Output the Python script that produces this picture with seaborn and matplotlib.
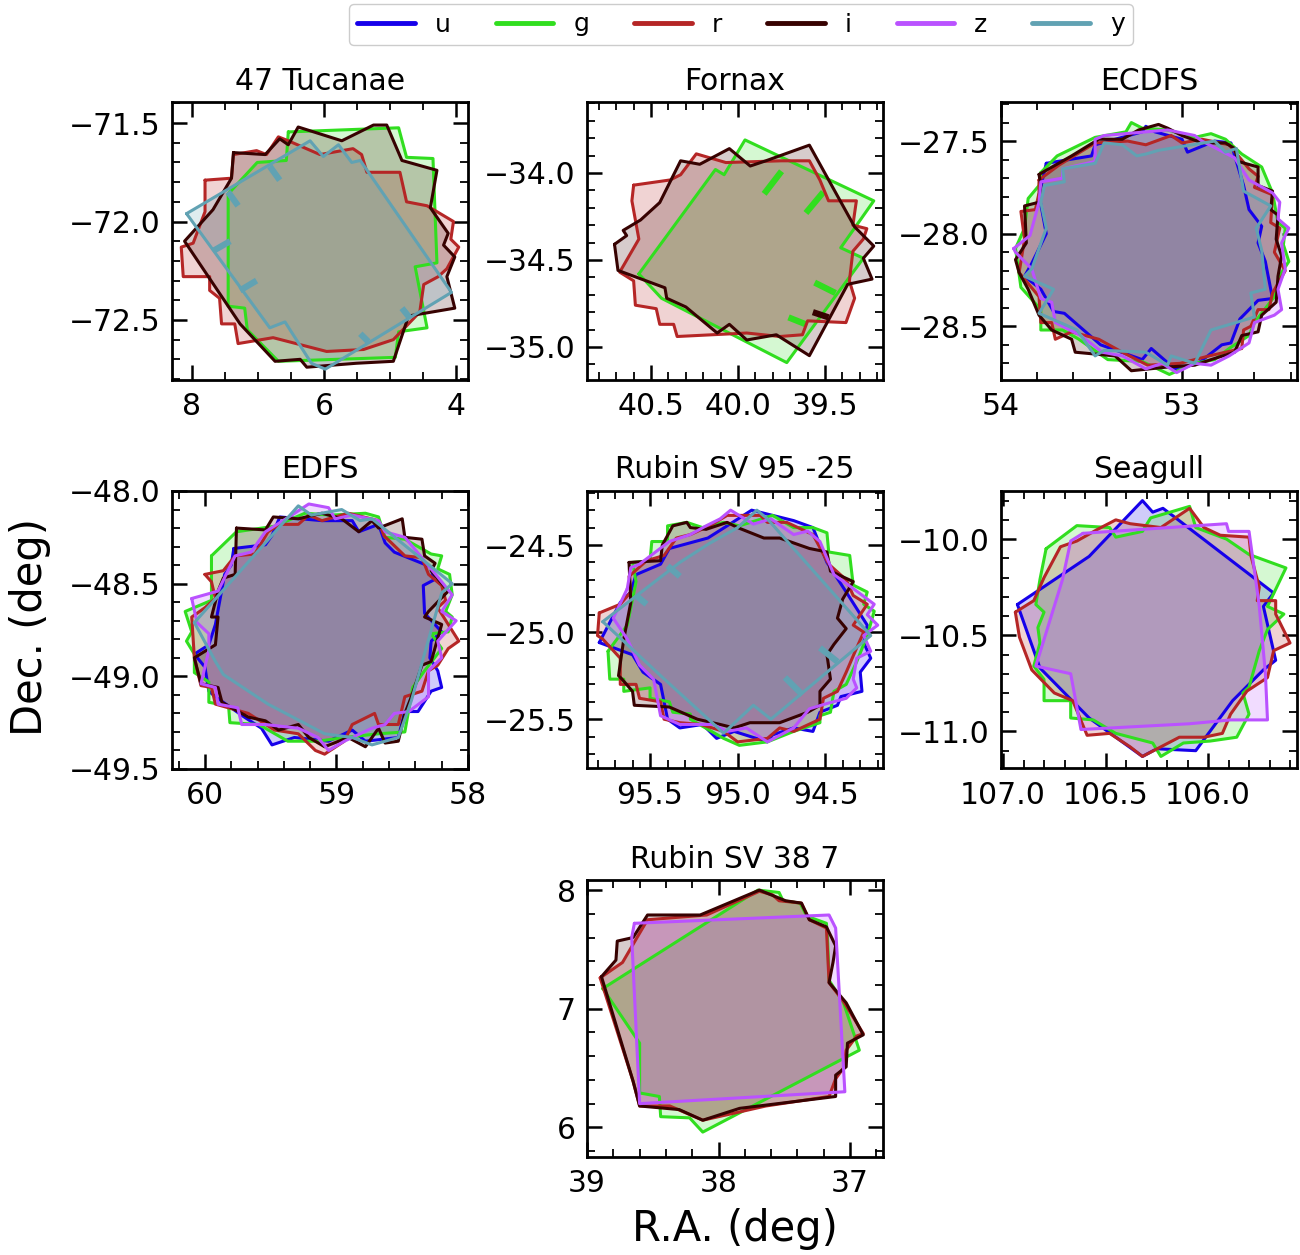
import numpy as np
import matplotlib
matplotlib.use("Agg")
import matplotlib.pyplot as plt
from matplotlib.lines import Line2D
from matplotlib.ticker import MultipleLocator
import seaborn as sns

# ---------------- data (RA, Dec in degrees) ----------------
BANDS = ["u", "g", "r", "i", "z", "y"]

tuc47_g = [(6.54, -71.545), (4.87, -71.524), (4.75, -71.674), (4.35, -71.68), (4.29, -72.21),
           (4.62, -72.23), (4.44, -72.54), (4.87, -72.56), (4.92, -72.69), (6.69, -72.71),
           (7.16, -72.55), (7.20, -72.44), (7.45, -72.43), (7.45, -71.86), (7.01, -71.70),
           (6.57, -71.69)]
tuc47_r = [(7.80, -71.79), (7.40, -71.78), (7.37, -71.66), (7.02, -71.64), (6.87, -71.66),
           (6.69, -71.57), (6.54, -71.59), (6.06, -71.66), (5.56, -71.63), (5.43, -71.66),
           (5.35, -71.75), (4.85, -71.75), (4.75, -71.90), (4.44, -71.92), (4.04, -72.00),
           (4.08, -72.09), (3.96, -72.13), (4.14, -72.24), (4.27, -72.28), (4.49, -72.32),
           (4.55, -72.46), (4.95, -72.60), (5.40, -72.65), (5.96, -72.66), (6.77, -72.59),
           (7.30, -72.62), (7.35, -72.52), (7.55, -72.52), (7.58, -72.39), (7.73, -72.35),
           (7.73, -72.28), (8.13, -72.28), (8.16, -72.13), (7.98, -72.11), (7.80, -71.95)]
tuc47_i = [(7.37, -71.65), (6.89, -71.66), (6.67, -71.58), (6.54, -71.61), (6.39, -71.52),
           (5.73, -71.59), (5.25, -71.51), (5.05, -71.51), (4.82, -71.69), (4.29, -71.74),
           (4.39, -71.93), (4.12, -72.06), (4.19, -72.12), (4.02, -72.18), (4.14, -72.28),
           (4.02, -72.44), (4.72, -72.48), (4.95, -72.71), (5.51, -72.72), (6.26, -72.74),
           (6.36, -72.70), (6.74, -72.71), (7.27, -72.52), (7.55, -72.38), (8.11, -72.10),
           (7.68, -71.94), (7.40, -71.78)]
tuc47_y = [(8.08, -71.96), (6.21, -71.59), (6.01, -71.67), (5.78, -71.61), (5.58, -71.70),
           (5.45, -71.69), (4.07, -72.36), (5.98, -72.75), (6.19, -72.72), (6.59, -72.51),
           (6.82, -72.54)]
# short chip-gap marks inside the footprints: (ra0, dec0, ra1, dec1)
tuc47_y_gaps = [(6.82, -71.72, 6.67, -71.79), (7.45, -71.85, 7.30, -71.92),
                (7.68, -72.15, 7.42, -72.10), (7.27, -72.35, 7.02, -72.30),
                (5.45, -72.57, 5.33, -72.61), (4.82, -72.44, 4.70, -72.49)]

fornax_g = [(40.57, -34.58), (40.13, -33.98), (40.08, -34.01), (39.96, -33.81), (39.22, -34.16),
            (39.41, -34.43), (39.28, -34.49), (39.72, -35.09), (40.44, -34.72)]
fornax_r = [(40.60, -34.07), (40.39, -34.04), (40.33, -34.01), (40.24, -33.89), (40.07, -33.94),
            (39.75, -33.93), (39.59, -33.93), (39.53, -34.04), (39.48, -34.16), (39.32, -34.16),
            (39.34, -34.30), (39.26, -34.32), (39.28, -34.38), (39.34, -34.45), (39.36, -34.62),
            (39.33, -34.72), (39.38, -34.86), (39.60, -34.85), (39.63, -34.93), (39.76, -34.94),
            (39.95, -34.92), (40.35, -34.94), (40.37, -34.87), (40.45, -34.87), (40.47, -34.78),
            (40.59, -34.76), (40.60, -34.62), (40.68, -34.57), (40.57, -34.38), (40.61, -34.16)]
fornax_i = [(40.71, -34.41), (40.64, -34.36), (40.66, -34.33), (40.56, -34.27), (40.45, -34.17),
            (40.33, -33.93), (40.22, -33.95), (40.05, -33.86), (39.93, -33.96), (39.84, -33.93),
            (39.59, -33.84), (39.33, -34.31), (39.22, -34.42), (39.28, -34.49), (39.23, -34.61),
            (39.37, -34.64), (39.59, -35.05), (39.78, -34.93), (39.95, -34.96), (40.05, -34.87),
            (40.12, -34.92), (40.30, -34.77), (40.41, -34.72), (40.42, -34.66), (40.69, -34.56)]
fornax_g_gaps = [(39.85, -34.12, 39.75, -33.99), (39.61, -34.23, 39.51, -34.11),
                 (39.56, -34.63, 39.44, -34.69), (39.71, -34.83, 39.61, -34.87)]
fornax_i_gaps = [(39.57, -34.80, 39.48, -34.83)]

ecdfs_u = [(53.75, -27.62), (53.50, -27.58), (53.48, -27.52), (53.22, -27.45), (53.20, -27.42),
           (53.15, -27.45), (53.00, -27.49), (52.97, -27.56), (52.82, -27.50), (52.73, -27.51),
           (52.66, -27.74), (52.63, -27.87), (52.56, -27.96), (52.58, -28.05), (52.54, -28.15),
           (52.50, -28.35), (52.58, -28.36), (52.68, -28.46), (52.73, -28.59), (52.78, -28.60),
           (52.91, -28.70), (53.04, -28.73), (53.17, -28.62), (53.22, -28.68), (53.45, -28.60),
           (53.65, -28.43), (53.71, -28.42), (53.78, -28.30), (53.87, -28.23), (53.83, -28.16),
           (53.75, -28.00), (53.79, -27.79)]
ecdfs_g = [(53.78, -27.67), (53.69, -27.58), (53.48, -27.48), (53.31, -27.45), (53.28, -27.40),
           (53.22, -27.43), (53.08, -27.44), (52.93, -27.48), (52.84, -27.46), (52.76, -27.49),
           (52.67, -27.57), (52.56, -27.64), (52.50, -27.78), (52.47, -27.94), (52.43, -27.97),
           (52.44, -28.06), (52.41, -28.15), (52.45, -28.21), (52.49, -28.34), (52.60, -28.48),
           (52.63, -28.55), (52.74, -28.62), (52.82, -28.68), (52.93, -28.70), (53.07, -28.76),
           (53.22, -28.69), (53.41, -28.68), (53.57, -28.57), (53.66, -28.52), (53.78, -28.52),
           (53.78, -28.41), (53.89, -28.29), (53.92, -28.08), (53.87, -27.97), (53.85, -27.81),
           (53.79, -27.74)]
ecdfs_r = [(53.79, -27.71), (53.68, -27.63), (53.48, -27.51), (53.30, -27.50), (53.20, -27.52),
           (53.06, -27.47), (53.00, -27.51), (52.89, -27.49), (52.74, -27.52), (52.63, -27.65),
           (52.58, -27.69), (52.60, -27.75), (52.50, -27.79), (52.51, -27.94), (52.46, -27.97),
           (52.49, -28.10), (52.43, -28.20), (52.50, -28.32), (52.52, -28.41), (52.58, -28.41),
           (52.62, -28.50), (52.66, -28.52), (52.67, -28.62), (52.85, -28.66), (53.01, -28.70),
           (53.19, -28.71), (53.33, -28.64), (53.46, -28.57), (53.61, -28.53), (53.70, -28.57),
           (53.72, -28.48), (53.78, -28.48), (53.79, -28.34), (53.90, -28.21), (53.87, -28.03),
           (53.89, -27.88), (53.81, -27.87), (53.79, -27.78)]
ecdfs_i = [(53.79, -27.68), (53.61, -27.58), (53.46, -27.49), (53.33, -27.49), (53.24, -27.44),
           (53.13, -27.41), (53.08, -27.43), (53.00, -27.47), (52.89, -27.51), (52.76, -27.51),
           (52.71, -27.54), (52.69, -27.61), (52.58, -27.64), (52.58, -27.74), (52.50, -27.77),
           (52.51, -27.87), (52.47, -27.90), (52.48, -28.03), (52.45, -28.12), (52.47, -28.23),
           (52.48, -28.37), (52.56, -28.44), (52.58, -28.53), (52.67, -28.55), (52.71, -28.64),
           (52.84, -28.68), (52.93, -28.71), (53.08, -28.72), (53.28, -28.74), (53.37, -28.66),
           (53.59, -28.64), (53.61, -28.57), (53.72, -28.52), (53.79, -28.44), (53.85, -28.30),
           (53.90, -28.21), (53.92, -28.14), (53.86, -28.05), (53.87, -27.85), (53.79, -27.83),
           (53.78, -27.74)]
ecdfs_z = [(53.93, -28.08), (53.84, -28.01), (53.79, -27.83), (53.78, -27.72), (53.66, -27.70),
           (53.66, -27.65), (53.48, -27.61), (53.48, -27.49), (53.43, -27.47), (53.08, -27.44),
           (52.93, -27.47), (52.89, -27.50), (52.71, -27.59), (52.63, -27.71), (52.50, -27.78),
           (52.46, -27.83), (52.47, -27.92), (52.41, -27.97), (52.45, -28.05), (52.43, -28.19),
           (52.47, -28.30), (52.45, -28.41), (52.49, -28.44), (52.60, -28.48), (52.63, -28.59),
           (52.74, -28.66), (52.84, -28.71), (52.93, -28.70), (53.03, -28.75), (53.11, -28.70),
           (53.20, -28.73), (53.33, -28.66), (53.44, -28.64), (53.56, -28.55), (53.70, -28.48),
           (53.72, -28.37), (53.78, -28.35), (53.83, -28.19), (53.92, -28.10)]
ecdfs_y = [(53.76, -27.74), (53.65, -27.72), (53.66, -27.65), (53.48, -27.62), (53.43, -27.51),
           (53.33, -27.52), (53.25, -27.58), (53.20, -27.57), (53.13, -27.55), (52.82, -27.50),
           (52.76, -27.56), (52.70, -27.54), (52.66, -27.77), (52.51, -27.85), (52.59, -27.97),
           (52.56, -28.09), (52.54, -28.30), (52.62, -28.32), (52.60, -28.45), (52.84, -28.52),
           (52.93, -28.70), (53.06, -28.66), (53.08, -28.71), (53.20, -28.64), (53.43, -28.63),
           (53.48, -28.66), (53.58, -28.52), (53.79, -28.43), (53.71, -28.30), (53.87, -28.23),
           (53.83, -28.19), (53.75, -27.97), (53.78, -27.83)]

edfs_u = [(59.78, -48.31), (59.54, -48.29), (59.49, -48.24), (59.43, -48.14), (59.11, -48.16),
          (58.88, -48.16), (58.83, -48.22), (58.68, -48.18), (58.63, -48.28), (58.56, -48.33),
          (58.28, -48.41), (58.26, -48.48), (58.34, -48.51), (58.33, -48.66), (58.20, -48.76),
          (58.28, -48.81), (58.29, -48.90), (58.23, -48.97), (58.20, -49.06), (58.28, -49.08),
          (58.38, -49.19), (58.48, -49.19), (58.53, -49.33), (58.78, -49.35), (58.88, -49.29),
          (59.06, -49.35), (59.32, -49.33), (59.49, -49.37), (59.57, -49.28), (59.70, -49.22),
          (59.92, -49.11), (59.97, -49.08), (60.00, -48.95), (60.08, -48.88), (59.97, -48.83),
          (59.92, -48.72), (59.85, -48.45), (59.80, -48.40)]
edfs_g = [(59.95, -48.35), (59.76, -48.22), (59.47, -48.19), (59.24, -48.12), (59.04, -48.13),
          (58.78, -48.12), (58.68, -48.14), (58.63, -48.25), (58.48, -48.26), (58.28, -48.34),
          (58.20, -48.35), (58.23, -48.42), (58.14, -48.45), (58.12, -48.56), (58.17, -48.65),
          (58.12, -48.68), (58.15, -48.76), (58.28, -48.77), (58.20, -48.85), (58.33, -48.97),
          (58.42, -49.06), (58.48, -49.30), (58.68, -49.31), (58.94, -49.33), (59.14, -49.35),
          (59.37, -49.35), (59.59, -49.26), (59.81, -49.25), (59.82, -49.16), (59.97, -49.14),
          (59.97, -49.03), (60.08, -48.98), (60.08, -48.88), (60.14, -48.81), (60.10, -48.76),
          (60.15, -48.65), (59.95, -48.59)]
edfs_r = [(60.00, -48.45), (59.86, -48.43), (59.77, -48.35), (59.62, -48.34), (59.52, -48.22),
          (59.43, -48.18), (59.29, -48.18), (59.21, -48.13), (59.11, -48.16), (58.91, -48.12),
          (58.68, -48.16), (58.64, -48.24), (58.48, -48.35), (58.35, -48.36), (58.30, -48.45),
          (58.20, -48.51), (58.17, -48.59), (58.23, -48.63), (58.07, -48.81), (58.15, -48.85),
          (58.23, -48.94), (58.30, -48.97), (58.35, -49.08), (58.48, -49.11), (58.53, -49.26),
          (58.68, -49.26), (58.71, -49.20), (58.88, -49.26), (58.94, -49.35), (59.09, -49.42),
          (59.16, -49.40), (59.29, -49.31), (59.47, -49.29), (59.67, -49.20), (59.92, -49.15),
          (59.95, -49.06), (60.03, -49.05), (60.08, -48.90), (60.10, -48.68), (60.00, -48.63),
          (59.92, -48.58), (59.95, -48.49)]
edfs_i = [(59.76, -48.20), (59.54, -48.21), (59.48, -48.14), (59.29, -48.15), (59.11, -48.12),
          (58.96, -48.15), (58.83, -48.22), (58.73, -48.16), (58.68, -48.20), (58.50, -48.15),
          (58.48, -48.25), (58.35, -48.26), (58.33, -48.35), (58.25, -48.39), (58.28, -48.43),
          (58.15, -48.54), (58.30, -48.65), (58.33, -48.68), (58.20, -48.72), (58.28, -48.92),
          (58.35, -48.94), (58.43, -49.11), (58.48, -49.20), (58.53, -49.35), (58.63, -49.36),
          (58.68, -49.28), (58.78, -49.38), (58.91, -49.33), (59.09, -49.38), (59.21, -49.33),
          (59.29, -49.26), (59.44, -49.29), (59.54, -49.24), (59.67, -49.22), (59.87, -49.14),
          (59.90, -49.06), (60.03, -49.04), (60.08, -48.90), (59.92, -48.83), (59.90, -48.68),
          (59.95, -48.68), (59.90, -48.54), (59.86, -48.47), (59.77, -48.45)]
edfs_z = [(60.10, -48.58), (59.90, -48.54), (59.77, -48.35), (59.65, -48.33), (59.54, -48.22),
          (59.34, -48.13), (59.21, -48.07), (59.06, -48.09), (59.01, -48.15), (58.88, -48.13),
          (58.68, -48.16), (58.63, -48.22), (58.48, -48.25), (58.35, -48.36), (58.20, -48.49),
          (58.12, -48.56), (58.20, -48.65), (58.09, -48.70), (58.23, -48.81), (58.20, -48.90),
          (58.30, -48.97), (58.30, -49.11), (58.45, -49.19), (58.56, -49.20), (58.63, -49.26),
          (58.73, -49.28), (58.94, -49.35), (59.06, -49.40), (59.14, -49.33), (59.29, -49.28),
          (59.54, -49.26), (59.72, -49.26), (59.75, -49.17), (59.90, -49.15), (59.92, -49.06),
          (60.03, -49.04), (59.97, -48.86), (59.97, -48.77), (60.06, -48.71)]
edfs_y = [(60.08, -48.71), (59.29, -48.08), (59.19, -48.13), (58.96, -48.10), (58.82, -48.16),
          (58.73, -48.15), (58.12, -48.50), (58.20, -48.55), (58.43, -49.13), (58.53, -49.33),
          (58.73, -49.37), (58.88, -49.33), (59.09, -49.31), (59.52, -49.15), (59.86, -48.99),
          (59.92, -48.92)]

sv95_u = [(95.79, -25.06), (95.67, -24.83), (95.61, -24.77), (95.58, -24.67), (95.44, -24.61),
          (95.39, -24.52), (95.17, -24.46), (95.06, -24.39), (94.92, -24.30), (94.80, -24.33),
          (94.68, -24.36), (94.57, -24.40), (94.49, -24.60), (94.38, -24.77), (94.26, -24.96),
          (94.28, -25.06), (94.24, -25.15), (94.30, -25.23), (94.29, -25.34), (94.41, -25.37),
          (94.43, -25.42), (94.53, -25.46), (94.57, -25.57), (94.68, -25.55), (94.80, -25.59),
          (94.83, -25.63), (95.02, -25.57), (95.12, -25.61), (95.20, -25.53), (95.33, -25.55),
          (95.40, -25.50), (95.44, -25.30), (95.54, -25.23), (95.60, -25.13)]
sv95_g = [(95.74, -25.11), (95.63, -24.96), (95.58, -24.71), (95.60, -24.60), (95.50, -24.59),
          (95.49, -24.48), (95.40, -24.48), (95.40, -24.39), (95.29, -24.37), (95.20, -24.40),
          (95.08, -24.37), (94.99, -24.39), (94.80, -24.33), (94.68, -24.40), (94.57, -24.40),
          (94.49, -24.43), (94.48, -24.54), (94.36, -24.56), (94.34, -24.73), (94.26, -24.77),
          (94.28, -24.84), (94.22, -24.88), (94.26, -25.02), (94.32, -25.17), (94.38, -25.30),
          (94.45, -25.34), (94.47, -25.46), (94.53, -25.48), (94.53, -25.52), (94.68, -25.57),
          (94.83, -25.63), (94.99, -25.65), (95.08, -25.61), (95.27, -25.50), (95.27, -25.47),
          (95.37, -25.46), (95.39, -25.40), (95.50, -25.38), (95.50, -25.32), (95.65, -25.34),
          (95.65, -25.27), (95.73, -25.27)]
sv95_r = [(95.79, -24.89), (95.67, -24.84), (95.61, -24.77), (95.62, -24.68), (95.52, -24.59),
          (95.42, -24.56), (95.35, -24.46), (95.27, -24.44), (95.16, -24.39), (95.06, -24.33),
          (94.87, -24.33), (94.83, -24.37), (94.72, -24.37), (94.57, -24.44), (94.48, -24.61),
          (94.38, -24.70), (94.34, -24.79), (94.26, -24.84), (94.34, -24.96), (94.28, -25.00),
          (94.32, -25.09), (94.38, -25.23), (94.43, -25.34), (94.51, -25.38), (94.53, -25.50),
          (94.68, -25.57), (94.76, -25.55), (94.83, -25.61), (95.00, -25.63), (95.08, -25.57),
          (95.21, -25.53), (95.33, -25.52), (95.42, -25.50), (95.44, -25.40), (95.56, -25.38),
          (95.58, -25.30), (95.67, -25.30), (95.67, -25.15), (95.77, -25.04), (95.80, -25.02)]
sv95_i = [(95.62, -24.60), (95.44, -24.59), (95.43, -24.50), (95.37, -24.39), (95.29, -24.37),
          (95.27, -24.40), (95.18, -24.41), (95.06, -24.37), (95.00, -24.40), (94.85, -24.46),
          (94.76, -24.46), (94.59, -24.52), (94.49, -24.54), (94.47, -24.65), (94.34, -24.71),
          (94.40, -24.81), (94.43, -24.92), (94.38, -24.98), (94.45, -25.07), (94.49, -25.13),
          (94.47, -25.27), (94.53, -25.34), (94.53, -25.42), (94.60, -25.46), (94.76, -25.52),
          (94.93, -25.52), (95.02, -25.55), (95.10, -25.53), (95.23, -25.50), (95.39, -25.43),
          (95.59, -25.42), (95.60, -25.34), (95.66, -25.27), (95.68, -25.25), (95.65, -25.04),
          (95.61, -24.83)]
sv95_z = [(95.63, -24.75), (95.61, -24.63), (95.56, -24.61), (95.39, -24.48), (95.27, -24.44),
          (95.18, -24.39), (95.10, -24.35), (95.04, -24.30), (94.91, -24.38), (94.81, -24.35),
          (94.68, -24.44), (94.60, -24.42), (94.53, -24.48), (94.45, -24.67), (94.34, -24.75),
          (94.22, -24.84), (94.26, -24.90), (94.20, -24.96), (94.28, -25.02), (94.24, -25.11),
          (94.32, -25.15), (94.34, -25.27), (94.32, -25.32), (94.38, -25.38), (94.49, -25.41),
          (94.59, -25.44), (94.68, -25.55), (94.83, -25.63), (94.95, -25.55), (95.06, -25.57),
          (95.14, -25.53), (95.33, -25.53), (95.44, -25.48), (95.48, -25.27), (95.56, -25.19),
          (95.63, -25.04), (95.71, -24.92)]
sv95_y = [(95.77, -24.94), (95.33, -24.60), (95.16, -24.49), (95.00, -24.40), (94.89, -24.30),
          (94.83, -24.35), (94.24, -25.02), (94.81, -25.50), (94.91, -25.42), (95.08, -25.58),
          (95.44, -25.25)]
sv95_y_gaps = [(95.40, -24.62, 95.33, -24.68), (95.58, -24.79, 95.52, -24.84),
               (94.73, -25.26, 94.63, -25.36), (94.53, -25.09, 94.43, -25.17)]

seagull_u = [(106.93, -10.34), (106.58, -10.09), (106.32, -9.80), (106.27, -9.86), (106.22, -9.84),
             (106.17, -9.88), (105.68, -10.28), (105.73, -10.35), (105.67, -10.63), (105.73, -10.68),
             (105.88, -10.84), (106.06, -11.10), (106.25, -11.09), (106.32, -11.13), (106.58, -10.93),
             (106.82, -10.67)]
seagull_g = [(106.79, -10.05), (106.64, -9.93), (106.48, -9.94), (106.45, -9.99), (106.32, -9.96),
             (106.28, -9.89), (106.09, -9.83), (106.06, -9.94), (105.91, -10.00), (105.80, -10.08),
             (105.62, -10.15), (105.71, -10.35), (105.63, -10.39), (105.71, -10.47), (105.75, -10.58),
             (105.80, -10.77), (105.83, -10.80), (105.80, -10.91), (105.86, -11.03), (105.99, -11.05),
             (106.12, -11.06), (106.23, -11.13), (106.27, -11.06), (106.45, -11.01), (106.56, -10.94),
             (106.67, -10.93), (106.67, -10.84), (106.80, -10.84), (106.80, -10.73), (106.85, -10.66),
             (106.82, -10.54), (106.83, -10.46), (106.80, -10.38), (106.84, -10.34), (106.82, -10.21)]
seagull_r = [(106.94, -10.38), (106.85, -10.32), (106.80, -10.20), (106.72, -10.04), (106.64, -10.01),
             (106.54, -9.95), (106.45, -9.90), (106.38, -9.92), (106.23, -9.94), (106.09, -9.84),
             (106.02, -9.94), (105.94, -9.98), (105.80, -9.99), (105.79, -10.09), (105.75, -10.25),
             (105.76, -10.32), (105.67, -10.32), (105.67, -10.39), (105.60, -10.54), (105.68, -10.58),
             (105.71, -10.72), (105.81, -10.79), (105.89, -10.91), (105.93, -11.01), (106.02, -11.03),
             (106.14, -11.03), (106.32, -11.13), (106.38, -11.08), (106.48, -11.01), (106.59, -11.02),
             (106.66, -10.84), (106.75, -10.80), (106.86, -10.68), (106.92, -10.51)]
seagull_z = [(106.61, -9.97), (105.91, -9.92), (105.90, -9.96), (105.80, -9.96), (105.76, -10.27),
             (105.75, -10.35), (105.72, -10.70), (105.71, -10.94), (105.89, -10.94), (106.09, -10.96),
             (106.62, -10.99), (106.67, -10.70), (106.84, -10.66), (106.71, -10.21), (106.67, -10.01)]

sv38_g = [(38.88, 7.17), (37.70, 8.00), (37.54, 7.98), (37.51, 7.91), (37.38, 7.89),
          (37.33, 7.78), (37.18, 7.72), (37.17, 7.55), (37.16, 7.24), (37.05, 7.05),
          (36.93, 6.65), (38.12, 5.96), (38.22, 6.08), (38.44, 6.09), (38.45, 6.26),
          (38.60, 6.29), (38.60, 6.71)]
sv38_r = [(38.90, 7.26), (38.73, 7.39), (38.63, 7.58), (38.54, 7.75), (38.09, 7.79),
          (37.69, 7.99), (37.59, 7.96), (37.54, 7.91), (37.37, 7.89), (37.31, 7.75),
          (37.18, 7.68), (37.16, 7.22), (37.05, 7.06), (36.90, 6.79), (36.95, 6.77),
          (37.03, 6.65), (37.05, 6.50), (37.11, 6.41), (37.16, 6.26), (37.64, 6.18),
          (38.12, 6.06), (38.37, 6.18), (38.60, 6.18), (38.65, 6.39)]
sv38_i = [(38.89, 7.27), (38.78, 7.41), (38.77, 7.57), (38.65, 7.60), (38.54, 7.79),
          (38.14, 7.79), (37.69, 8.00), (37.49, 7.91), (37.37, 7.89), (37.31, 7.75),
          (37.18, 7.69), (37.11, 7.53), (37.13, 7.39), (37.16, 7.22), (37.03, 7.05),
          (36.90, 6.78), (37.02, 6.71), (37.03, 6.51), (37.11, 6.44), (37.11, 6.26),
          (37.84, 6.16), (38.12, 6.06), (38.30, 6.15), (38.60, 6.18), (38.65, 6.39)]
sv38_z = [(38.64, 7.72), (37.16, 7.79), (37.11, 7.68), (37.04, 6.30), (38.60, 6.20), (38.66, 7.60)]

TITLES = ["47 Tucanae", "Fornax", "ECDFS", "EDFS", "Rubin SV 95 -25", "Seagull", "Rubin SV 38 7"]
FOOTPRINTS = [
    {"g": tuc47_g, "r": tuc47_r, "i": tuc47_i, "y": tuc47_y},
    {"g": fornax_g, "r": fornax_r, "i": fornax_i},
    {"u": ecdfs_u, "g": ecdfs_g, "r": ecdfs_r, "i": ecdfs_i, "z": ecdfs_z, "y": ecdfs_y},
    {"u": edfs_u, "g": edfs_g, "r": edfs_r, "i": edfs_i, "z": edfs_z, "y": edfs_y},
    {"u": sv95_u, "g": sv95_g, "r": sv95_r, "i": sv95_i, "z": sv95_z, "y": sv95_y},
    {"u": seagull_u, "g": seagull_g, "r": seagull_r, "z": seagull_z},
    {"g": sv38_g, "r": sv38_r, "i": sv38_i, "z": sv38_z},
]
GAPS = [{"y": tuc47_y_gaps}, {"g": fornax_g_gaps, "i": fornax_i_gaps}, {}, {},
        {"y": sv95_y_gaps}, {}, {}]

# ---------------- styling / layout ----------------
BAND_COLORS = {"u": "#1600ea", "g": "#31de1f", "r": "#b52626",
               "i": "#370201", "z": "#ba52ff", "y": "#61a2b3"}

XLIMS = [(8.30, 3.82), (40.868, 39.167), (54.0, 52.365), (60.25, 58.0),
         (95.86, 94.17), (107.01, 105.566), (39.0, 36.75)]
YLIMS = [(-72.805, -71.393), (-35.19, -33.592), (-28.79, -27.289), (-49.5, -48.0),
         (-25.78, -24.19), (-11.19, -9.75), (5.75, 8.085)]
XMAJ = [2, 0.5, 1, 1, 0.5, 0.5, 1]
XMIN = [0.5, 0.1, 0.2, 0.2, 0.1, 0.1, 0.2]
YMAJ = [0.5, 0.5, 0.5, 0.5, 0.5, 0.5, 1]
YMIN = [0.1, 0.1, 0.1, 0.1, 0.1, 0.1, 0.2]

W, H = 1300, 1255
# axes boxes (left, top, right, bottom) in pixels
BOXES = [(172, 102, 468, 380), (587, 102, 883, 380), (1001, 102, 1297, 380),
         (172, 491, 468, 769), (587, 491, 883, 768), (1001, 491, 1297, 768),
         (587, 880, 883, 1157)]

sns.set_style("ticks")
plt.rcParams.update({
    "font.family": ["DejaVu Sans"],
    "text.color": "black", "axes.labelcolor": "black",
    "xtick.direction": "in", "ytick.direction": "in",
    "xtick.top": True, "ytick.right": True,
    "xtick.major.size": 11, "ytick.major.size": 11,
    "xtick.minor.size": 5.5, "ytick.minor.size": 5.5,
    "xtick.major.width": 1.8, "ytick.major.width": 1.8,
    "xtick.minor.width": 1.3, "ytick.minor.width": 1.3,
    "xtick.minor.visible": True, "ytick.minor.visible": True,
    "axes.linewidth": 2.0, "axes.edgecolor": "black",
    "xtick.color": "black", "ytick.color": "black",
    "xtick.labelcolor": "black", "ytick.labelcolor": "black",
    "xtick.labelsize": 21.5, "ytick.labelsize": 21.5,
    "xtick.major.pad": 9, "ytick.major.pad": 8,
})

fig = plt.figure(figsize=(W / 100, H / 100), dpi=100)

for k, (title, fp) in enumerate(zip(TITLES, FOOTPRINTS)):
    l, t, r, b = BOXES[k]
    ax = fig.add_axes([l / W, 1 - b / H, (r - l) / W, (b - t) / H])
    for band in BANDS:
        if band not in fp:
            continue
        pts = np.array(fp[band] + [fp[band][0]])
        c = BAND_COLORS[band]
        ax.fill(pts[:, 0], pts[:, 1], facecolor=c, alpha=0.2, edgecolor="none", zorder=2)
        sns.lineplot(x=pts[:, 0], y=pts[:, 1], sort=False, estimator=None,
                     color=c, linewidth=2.2, ax=ax, zorder=3)
        for seg in GAPS[k].get(band, []):
            ax.plot([seg[0], seg[2]], [seg[1], seg[3]], color=c, lw=4.5,
                    solid_capstyle="butt", zorder=3)
    ax.set_xlim(*XLIMS[k])
    ax.set_ylim(*YLIMS[k])
    ax.xaxis.set_major_locator(MultipleLocator(XMAJ[k]))
    ax.xaxis.set_minor_locator(MultipleLocator(XMIN[k]))
    ax.yaxis.set_major_locator(MultipleLocator(YMAJ[k]))
    ax.yaxis.set_minor_locator(MultipleLocator(YMIN[k]))
    ax.tick_params(which="both", top=True, right=True, direction="in")
    ax.set_title(title, fontsize=21.5, pad=9, color="black")
    ax.set_xlabel("")
    ax.set_ylabel("")

handles = [Line2D([0], [0], color=BAND_COLORS[b], lw=3.5) for b in BANDS]
fig.legend(handles, BANDS, loc="upper center", bbox_to_anchor=(0.570, 1.0), ncol=6,
           fontsize=18, handlelength=2.3, handletextpad=0.8, columnspacing=1.8,
           frameon=True, fancybox=True, edgecolor="#cccccc", framealpha=1.0,
           borderpad=0.35, borderaxespad=0.15)

fig.text(0.023, 0.50, "Dec. (deg)", rotation=90, va="center", ha="center", fontsize=30)
fig.text(0.565, 0.021, "R.A. (deg)", va="center", ha="center", fontsize=30)

fig.savefig("out.png", dpi=100)
